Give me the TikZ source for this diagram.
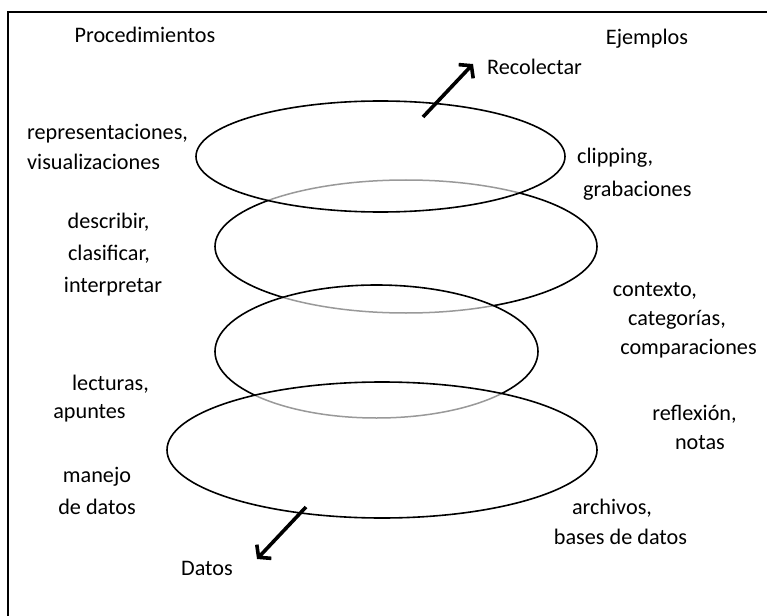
\documentclass[tikz,border=0pt]{standalone}
\usepackage{fontspec}
\setmainfont{Carlito}
\usetikzlibrary{arrows.meta}
\begin{document}
\begin{tikzpicture}[x=1bp,y=-1bp,
  lbl/.style={inner sep=0pt, anchor=base, font=\fontsize{22.2bp}{26bp}\selectfont},
  lblw/.style={lbl, anchor=base west},
  ring/.style={line width=1.6bp, draw=black},
  hidden/.style={line width=1.5bp, draw=black!40},
  mask/.style={line width=3.6bp, draw=white},
  flow/.style={line width=3.6bp, -{Straight Barb[length=8bp,width=20bp,line width=3.6bp]}},
  e1/.style={x radius=184.5, y radius=55.5},
  e2/.style={x radius=191, y radius=66.5},
  e3/.style={x radius=161.5, y radius=66.5},
  e4/.style={x radius=215, y radius=68}]
\useasboundingbox (0,0) rectangle (767,616);
\fill[white] (0,0) rectangle (767,616);

% frame (only the top and left edges fall inside the page)
\begin{scope}
  \clip (0,0) rectangle (767,616);
  \draw[line width=2bp] (8,640) |- (790,12);
\end{scope}

% ring centres
\coordinate (c1) at (380.5,156.5);
\coordinate (c2) at (406,246.5);
\coordinate (c3) at (376.5,351.5);
\coordinate (c4) at (382,450);

% second ring, with its hidden stretches in grey
\draw[ring] (c2) ellipse [e2];
\begin{scope}
  \clip (c1) ellipse [e1];
  \draw[mask] (c2) ellipse [e2];
  \draw[hidden] (c2) ellipse [e2];
\end{scope}
\begin{scope}
  \clip (c3) ellipse [e3];
  \draw[mask] (c2) ellipse [e2];
  \draw[hidden] (c2) ellipse [e2];
\end{scope}

% third ring
\draw[ring] (c3) ellipse [e3];
\begin{scope}
  \clip (c4) ellipse [e4];
  \draw[mask] (c3) ellipse [e3];
  \draw[hidden] (c3) ellipse [e3];
\end{scope}

% bottom and top rings
\draw[ring] (c4) ellipse [e4];
\draw[ring] (c1) ellipse [e1];

% headings
\node[lbl] (proc) at (145,43) {Procedimientos};
\node[lbl] (ejem) at (647,45) {Ejemplos};

% arrows
\node[lblw] (recol) at (487,75) {Recolectar};
\coordinate (r0) at (423,117);
\coordinate (r1) at (473,64);
\draw[flow] (r0) -- (r1);

\node[lbl] (datos) at (207,575) {Datos};
\coordinate (d0) at (306,507);
\coordinate (d1) at (257,559);
\draw[flow] (d0) -- (d1);

% left column
\node[lblw] (repr) at (27,140) {representaciones,};
\node[lblw] (visu) at (27,170) {visualizaciones};
\node[lbl] (desc) at (108.5,229) {describir,};
\node[lbl] (clas) at (109,260) {clasificar,};
\node[lbl] (interp) at (113,292) {interpretar};
\node[lbl] (lect) at (110.5,390) {lecturas,};
\node[lbl] (apun) at (89.5,418) {apuntes};
\node[lbl] (manejo) at (97,482) {manejo};
\node[lbl] (dedat) at (97,514) {de datos};

% right column
\node[lblw] (clipp) at (577,164) {clipping,};
\node[lblw] (grab) at (583,197) {grabaciones};
\node[lbl] (cont) at (655,296) {contexto,};
\node[lbl] (cate) at (677,325) {categorías,};
\node[lbl] (comp) at (688.5,354) {comparaciones};
\node[lbl] (refl) at (694.5,420) {reflexión,};
\node[lbl] (notas) at (700,449) {notas};
\node[lbl] (arch) at (612,514) {archivos,};
\node[lbl] (bases) at (620.5,544) {bases de datos};
\end{tikzpicture}
\end{document}
